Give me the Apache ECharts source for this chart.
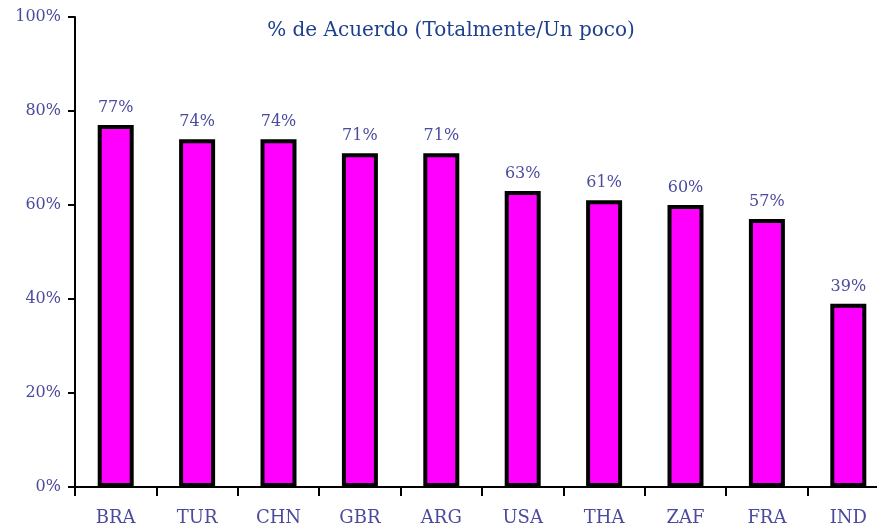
<!DOCTYPE html>
<html>
<head>
<meta charset="utf-8">
<script src="https://cdn.jsdelivr.net/npm/echarts@6/dist/echarts.min.js"></script>
<style>
  html, body { margin: 0; padding: 0; background: #fff; }
  #chart { width: 877px; height: 531px; }
</style>
</head>
<body>
<div id="chart"></div>
<script>
// Countries and share of agreement (%)
const countries = ['BRA', 'TUR', 'CHN', 'GBR', 'ARG', 'USA', 'THA', 'ZAF', 'FRA', 'IND'];
const agreement = [77, 74, 74, 71, 71, 63, 61, 60, 57, 39];
const chartTitle = '% de Acuerdo (Totalmente/Un poco)';

const labelColor = '#4b4b9e';
const serif = '"DejaVu Serif", "Liberation Serif", serif';

const chart = echarts.init(document.getElementById('chart'));
chart.setOption({
  animation: false,
  backgroundColor: '#ffffff',
  title: {
    text: chartTitle,
    left: 446,
    top: 16,
    textAlign: 'center',
    textStyle: { color: '#1d3f8c', fontFamily: serif, fontSize: 20, fontWeight: 'normal' }
  },
  // plot area runs a little past the right edge of the canvas
  grid: {
    left: 75, width: 814, top: 17, height: 470,
    containLabel: false, outerBoundsMode: 'none'
  },
  xAxis: {
    type: 'category',
    data: countries,
    axisLine: { lineStyle: { color: '#000', width: 2 } },
    axisTick: { show: true, length: 9, lineStyle: { color: '#000', width: 2 } },
    axisLabel: { color: labelColor, fontFamily: serif, fontSize: 18, margin: 22 }
  },
  yAxis: {
    type: 'value',
    min: 0,
    max: 100,
    interval: 20,
    axisLine: { show: true, lineStyle: { color: '#000', width: 2 } },
    axisTick: { show: true, length: 7, lineStyle: { color: '#000', width: 2 } },
    splitLine: { show: false },
    axisLabel: {
      color: labelColor, fontFamily: serif, fontSize: 16, margin: 14,
      formatter: v => v + '%'
    }
  },
  series: [{
    type: 'bar',
    data: agreement,
    barWidth: 36,
    itemStyle: { color: '#ff00ff', borderColor: '#000', borderWidth: 4 },
    label: {
      show: true,
      position: 'top',
      distance: 9,
      color: labelColor,
      fontFamily: serif,
      fontSize: 16,
      formatter: p => p.value + '%'
    }
  }]
});
</script>
</body>
</html>
